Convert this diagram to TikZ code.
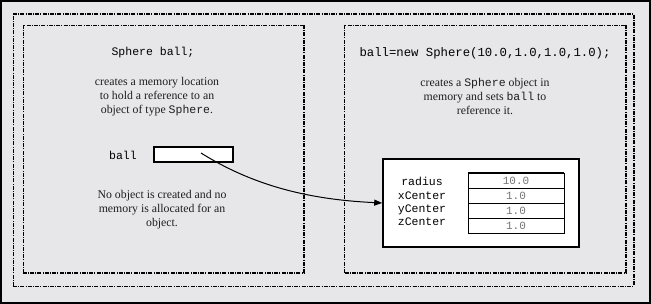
\documentclass[tikz,border=0pt]{standalone}
\usepackage{fontspec}
\setmainfont{Liberation Serif}
\setmonofont{Liberation Mono}
\usetikzlibrary{arrows.meta}
\definecolor{bg}{RGB}{231,231,233}
\definecolor{txt}{RGB}{30,30,30}
\newcommand{\inl}[1]{{\ttfamily\fontsize{11.5}{14}\selectfont #1}}
\begin{document}
\begin{tikzpicture}[x=1pt,y=-1pt,
  dd/.style={line width=0.6pt,dash pattern=on 4pt off 1.2pt on 1pt off 1.2pt},
  ddthick/.style={line width=1.4pt,dash pattern=on 4pt off 1.2pt on 1pt off 1.2pt},
  code/.style={font=\fontsize{11.5}{13}\selectfont\ttfamily,inner sep=0pt},
  para/.style={font=\fontsize{11.8}{14}\selectfont,align=center,text=txt,inner sep=0pt},
  cell/.style={draw,line width=0.7pt,minimum width=96pt,minimum height=15pt,inner sep=0pt,font=\fontsize{11}{13}\selectfont\ttfamily,text=black!55},
  lab/.style={font=\fontsize{11.5}{13}\selectfont\ttfamily,inner sep=0pt,anchor=base}]
\useasboundingbox (0,0) rectangle (651,304);
\fill[bg] (0,0) rectangle (651,304);
\draw[line width=1.5pt] (1,1) rectangle (650,303);
% outer dash-dot frame
\draw[dd] (13,286) -- (13,14);
\draw[dd] (13,286) -- (634,286);
\draw[ddthick] (13,14) -- (634,14) -- (634,286);
% left inner frame
\draw[dd] (23,273) -- (23,25) -- (304,25);
\draw[ddthick] (304,25) -- (304,273) -- (23,273);
% right inner frame
\draw[dd] (344,273) -- (344,25) -- (626,25);
\draw[ddthick] (626,25) -- (626,273) -- (344,273);

% left panel
\node[code] (decl) at (153,53) {Sphere ball;};
\node[para] (desc1) at (157,96.5) {creates a memory location\\to hold a reference to an\\object of type \inl{Sphere}.};
\node[code,anchor=east] (balllab) at (137,155) {ball};
\node[draw,fill=white,line width=1.3pt,minimum width=79pt,minimum height=15pt,inner sep=0pt] (ballbox) at (193.5,154.5) {};
\node[para] (desc2) at (162,209.5) {No object is created and no\\memory is allocated for an\\object.};

% right panel
\node[code,font=\fontsize{12.3}{13}\selectfont\ttfamily] (newst) at (485,53) {ball=new Sphere(10.0,1.0,1.0,1.0);};
\node[para] (desc3) at (485,96.5) {creates a \inl{Sphere} object in\\memory and sets \inl{ball} to\\reference it.};
\node[draw,fill=white,line width=1.6pt,minimum width=196pt,minimum height=88pt,inner sep=0pt] (obj) at (481,203) {};
\node[cell] (c1) at (516,180.5) {10.0};
\node[cell] (c2) at (516,195.5) {1.0};
\node[cell] (c3) at (516,210.5) {1.0};
\node[cell] (c4) at (516,225.5) {1.0};
\draw[line width=1.3pt] (c1.north west) -- (c1.north east);
\node[lab] (l1) at (422,186) {radius};
\node[lab] (l2) at (422,199.5) {xCenter};
\node[lab] (l3) at (422,212.8) {yCenter};
\node[lab] (l4) at (422,226) {zCenter};

% arrow
\coordinate (s) at (201,153);
\draw[line width=1pt,-{Triangle[length=8pt,width=6pt]}] (s) .. controls (260,190) and (320,200) .. (obj.west);
\end{tikzpicture}
\end{document}
